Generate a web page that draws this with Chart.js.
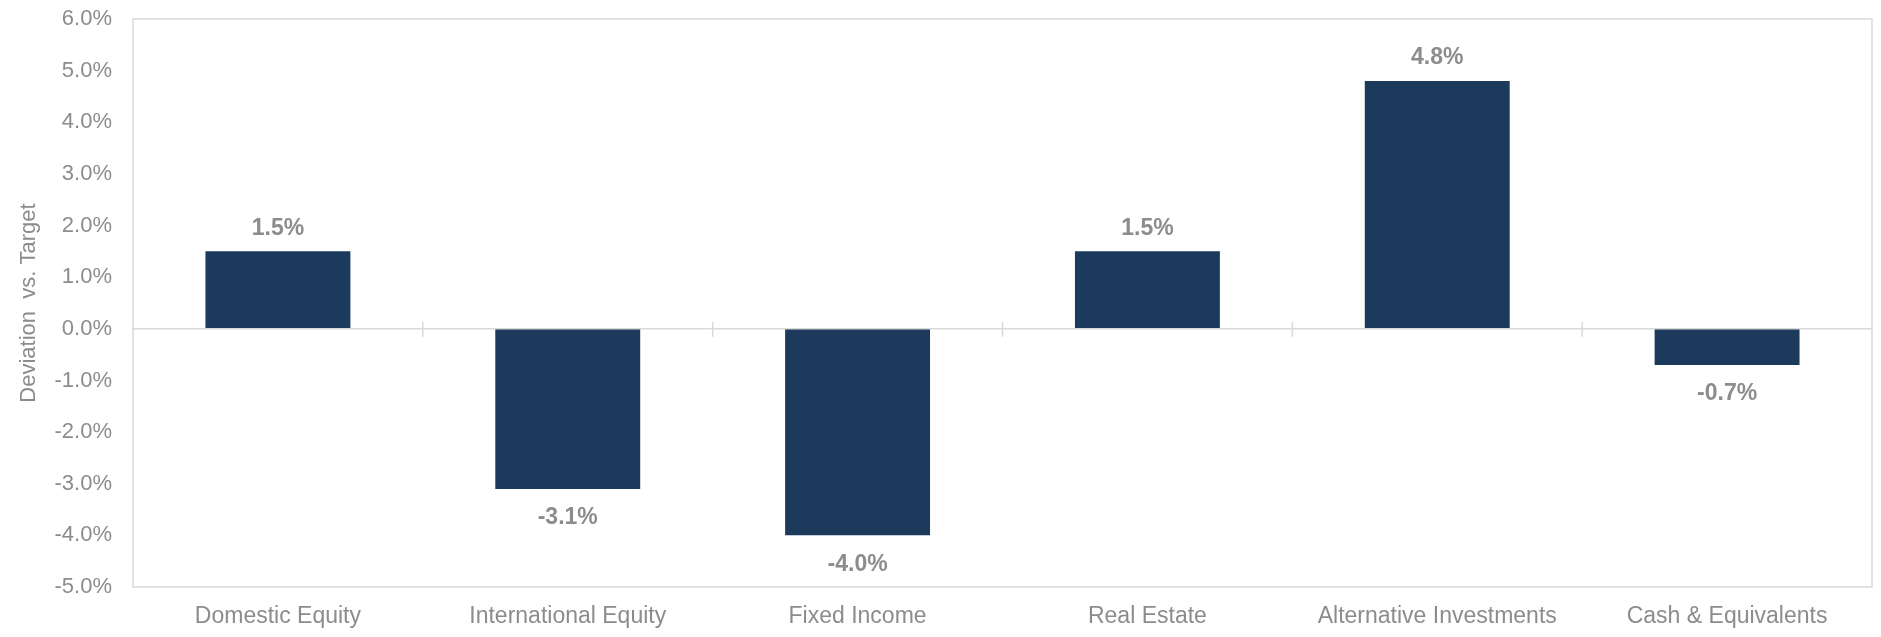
<!DOCTYPE html>
<html>
<head>
<meta charset="utf-8">
<script src="https://cdn.jsdelivr.net/npm/chart.js@4"></script>
<style>
  html, body { margin: 0; padding: 0; background: #ffffff; }
  #wrap { width: 1881px; height: 637px; position: relative; }
</style>
</head>
<body>
<div id="wrap"><canvas id="c"></canvas></div>
<script>
const categories = ["Domestic Equity", "International Equity", "Fixed Income", "Real Estate", "Alternative Investments", "Cash & Equivalents"];
const deviation = [1.5, -3.1, -4.0, 1.5, 4.8, -0.7];
const yMin = -5, yMax = 6, yStep = 1;
const yTitle = "Deviation  vs. Target";

const GRAY = "#8c8c8c";
const LINE = "#d9d9d9";
const BAR = "#1b3a5c";
const FONT = "'Liberation Sans', Arial, sans-serif";

const frameAndTicks = {
  id: "frameAndTicks",
  afterDraw(chart) {
    const { ctx, chartArea: a, scales: { x, y } } = chart;
    ctx.save();
    ctx.strokeStyle = LINE;
    ctx.lineWidth = 1.5;
    ctx.strokeRect(a.left, a.top, a.right - a.left, a.bottom - a.top);
    const y0 = y.getPixelForValue(0);
    ctx.beginPath();
    ctx.moveTo(a.left, y0); ctx.lineTo(a.right, y0);
    for (let i = 0; i < categories.length - 1; i++) {
      const xb = (x.getPixelForValue(i) + x.getPixelForValue(i + 1)) / 2;
      ctx.moveTo(xb, y0 - 7); ctx.lineTo(xb, y0 + 8);
    }
    ctx.stroke();
    ctx.restore();
  }
};

const valueLabels = {
  id: "valueLabels",
  afterDatasetsDraw(chart) {
    const { ctx } = chart;
    const meta = chart.getDatasetMeta(0);
    ctx.save();
    ctx.fillStyle = GRAY;
    ctx.font = "bold 23px " + FONT;
    ctx.textAlign = "center";
    ctx.textBaseline = "middle";
    meta.data.forEach((bar, i) => {
      const v = deviation[i];
      const txt = v.toFixed(1) + "%";
      const yy = v >= 0 ? bar.y - 23 : bar.y + 29;
      ctx.fillText(txt, bar.x, yy);
    });
    ctx.restore();
  }
};

new Chart(document.getElementById("c"), {
  type: "bar",
  data: {
    labels: categories,
    datasets: [{
      data: deviation,
      backgroundColor: BAR,
      borderWidth: 0,
      barPercentage: 0.5,
      categoryPercentage: 1.0
    }]
  },
  options: {
    responsive: true,
    maintainAspectRatio: false,
    animation: false,
    devicePixelRatio: 1,
    layout: { padding: { top: 19, right: 9, left: 0, bottom: 0 } },
    plugins: { legend: { display: false }, tooltip: { enabled: false } },
    scales: {
      x: {
        grid: { display: false, drawTicks: false },
        border: { display: false },
        ticks: { color: GRAY, font: { family: FONT, size: 23 }, padding: 16, maxRotation: 0, autoSkip: false },
        afterFit(s) { s.height = 50; s.paddingLeft = 0; s.paddingRight = 0; }
      },
      y: {
        min: yMin, max: yMax,
        grid: { display: false, drawTicks: false },
        border: { display: false },
        ticks: {
          stepSize: yStep,
          color: GRAY,
          font: { family: FONT, size: 22 },
          padding: 21,
          callback: v => Number(v).toFixed(1) + "%"
        },
        title: {
          display: true,
          text: yTitle,
          color: GRAY,
          font: { family: FONT, size: 22 },
          padding: { top: 16, bottom: 0 }
        },
        afterFit(s) { s.width = 133; s.paddingTop = 0; s.paddingBottom = 0; }
      }
    }
  },
  plugins: [frameAndTicks, valueLabels]
});
</script>
</body>
</html>
